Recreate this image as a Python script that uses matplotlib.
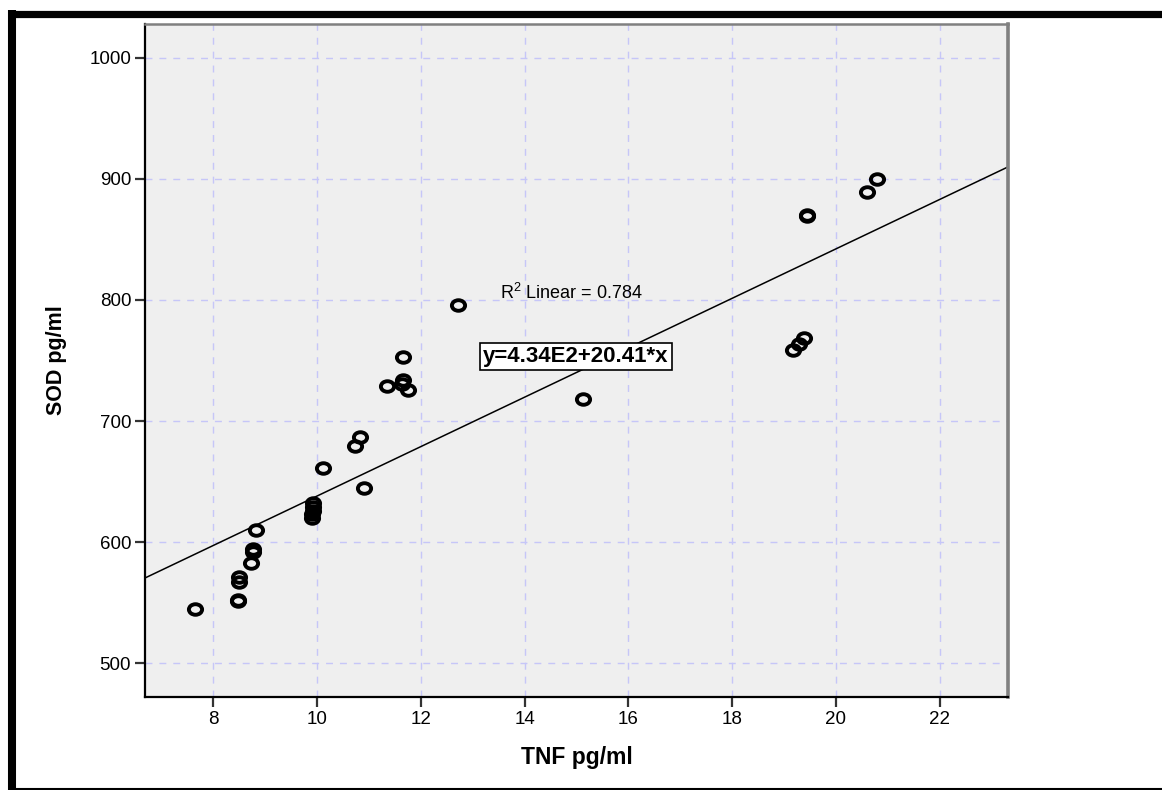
import matplotlib
matplotlib.use('Agg')
import matplotlib.pyplot as plt
from matplotlib.lines import Line2D
from matplotlib.path import Path
from matplotlib.transforms import Affine2D
import numpy as np

plt.rcParams['font.family'] = ['Liberation Sans', 'DejaVu Sans']
plt.rcParams['mathtext.default'] = 'regular'

# TNF vs SOD, pg/ml
tnf = [7.64, 8.48, 8.48, 8.50, 8.50, 8.73, 8.77, 8.77, 8.82,
       9.90, 9.90, 9.91, 9.91, 9.92, 10.12, 10.72, 10.82, 10.91,
       11.34, 11.66, 11.63, 11.76, 11.65, 12.72, 15.13,
       19.18, 19.28, 19.39, 19.44, 19.44, 20.61, 20.80]
sod = [545, 551, 552, 567, 571, 583, 592, 594, 610,
       620, 623, 626, 629, 632, 661, 679, 687, 645,
       729, 734, 731, 726, 753, 796, 718,
       759, 764, 769, 869, 870, 889, 900]

# fit line as reported
intercept = 4.34e2
slope = 20.41
r2 = 0.784

x_ticks = [8, 10, 12, 14, 16, 18, 20, 22]
y_ticks = [500, 600, 700, 800, 900, 1000]
xlim = (6.68, 23.32)
ylim = (472, 1028)

fig = plt.figure(figsize=(11.62, 7.90), dpi=100)
ax = fig.add_axes([0.1248, 0.1177, 0.7427, 0.8519])
ax.set_facecolor('#efefef')

ax.set_xlim(*xlim)
ax.set_ylim(*ylim)
ax.set_xticks(x_ticks)
ax.set_yticks(y_ticks)
ax.grid(True, color='#c6c6f8', linestyle=(0, (5, 5)), linewidth=1.0)
ax.set_axisbelow(True)

# slightly wide ring marker
ring = Path.unit_circle().transformed(Affine2D().scale(1.25, 1.0))
ax.plot(tnf, sod, linestyle='none', marker=ring, markersize=9.5,
        markerfacecolor='none', markeredgecolor='black', markeredgewidth=2.8,
        zorder=3)

xs = np.array(xlim)
ax.plot(xs, intercept + slope * xs, color='black', linewidth=1.1, zorder=2)

ax.text(13.53, 806, 'R$^{2}$ Linear = %.3f' % r2, fontsize=13,
        ha='left', va='center')
ax.text(14.99, 753.4, 'y=%.2fE2+%.2f*x' % (intercept / 100, slope),
        fontsize=16, fontweight='bold', ha='center', va='center',
        bbox=dict(boxstyle='square,pad=0.15', facecolor='white',
                  edgecolor='black', linewidth=1.2), zorder=4)

for side in ['left', 'bottom']:
    ax.spines[side].set_color('black')
    ax.spines[side].set_linewidth(1.6)
ax.spines['top'].set_color('#808080')
ax.spines['top'].set_linewidth(1.8)
ax.spines['right'].set_color('#808080')
ax.spines['right'].set_linewidth(2.6)

ax.tick_params(direction='out', length=7, width=1.6, color='#333333',
               labelsize=13.5, pad=3)
ax.set_xlabel('TNF pg/ml', fontsize=16.5, fontweight='bold', labelpad=13)
ax.set_ylabel('SOD pg/ml', fontsize=15.5, fontweight='bold', labelpad=16)

# outer frame
fig.add_artist(Line2D([8 / 1162, 1.0], [1 - 13.5 / 790] * 2, color='black',
                      linewidth=5.2, solid_capstyle='butt'))
fig.add_artist(Line2D([12 / 1162] * 2, [0.0, 1 - 10 / 790], color='black',
                      linewidth=5.8, solid_capstyle='butt'))
fig.add_artist(Line2D([8 / 1162, 1.0], [1.5 / 790] * 2, color='black',
                      linewidth=1.5, solid_capstyle='butt'))

fig.savefig('out.png', dpi=100)
